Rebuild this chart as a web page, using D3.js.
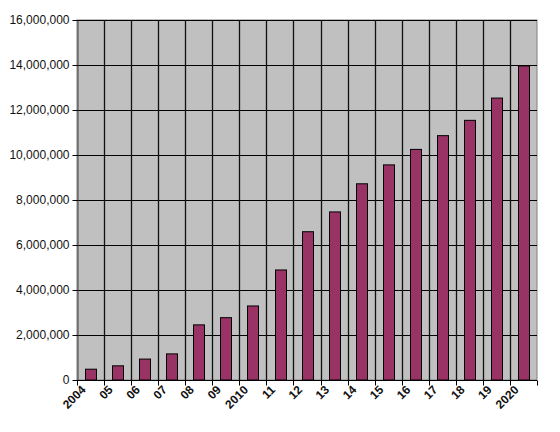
<!DOCTYPE html>
<html><head><meta charset="utf-8">
<script src="https://cdn.jsdelivr.net/npm/d3@7"></script>
<style>body{margin:0;background:#fff}</style>
</head><body>
<svg id="c" width="560" height="432"></svg>
<script>
const categories = ["2004","05","06","07","08","09","2010","11","12","13","14","15","16","17","18","19","2020"];
const values = [480000,630000,930000,1160000,2450000,2770000,3290000,4890000,6590000,7470000,8720000,9560000,10250000,10860000,11540000,12530000,13960000];
const yTicks = [0,2000000,4000000,6000000,8000000,10000000,12000000,14000000,16000000];

const m = {l:77, t:20, r:537, b:380};
const svg = d3.select("#c");
const x = d3.scaleBand().domain(categories).range([m.l, m.r]).paddingInner(0.6).paddingOuter(0.3);
const xb = d3.scaleBand().domain(categories).range([m.l, m.r]);
const y = d3.scaleLinear().domain([0,16000000]).range([m.b, m.t]);

svg.append("rect").attr("x",m.l).attr("y",m.t).attr("width",m.r-m.l).attr("height",m.b-m.t)
  .attr("fill","#c0c0c0").attr("stroke","#808080").attr("stroke-width",1);

// horizontal grid
svg.append("g").selectAll("line").data(yTicks.slice(1)).join("line")
  .attr("x1",m.l).attr("x2",m.r).attr("y1",d=>Math.round(y(d))+0.5).attr("y2",d=>Math.round(y(d))+0.5)
  .attr("stroke","#000").attr("stroke-width",1);
// vertical grid
svg.append("g").selectAll("line").data(categories.slice(1)).join("line")
  .attr("x1",d=>Math.round(xb(d))+0.5).attr("x2",d=>Math.round(xb(d))+0.5).attr("y1",m.t).attr("y2",m.b)
  .attr("stroke","#111").attr("stroke-width",1.3);

// bars
svg.append("g").selectAll("rect").data(categories).join("rect")
  .attr("x",(d)=>Math.round(x(d))+0.5).attr("width",Math.round(x.bandwidth()))
  .attr("y",(d,i)=>y(values[i])).attr("height",(d,i)=>m.b-y(values[i]))
  .attr("fill","#993366").attr("stroke","#000").attr("stroke-width",1);

// y axis
const ya = svg.append("g").attr("transform",`translate(${m.l+0.5},0)`)
  .call(d3.axisLeft(y).tickValues(yTicks).tickSize(5).tickSizeOuter(0).tickFormat(d3.format(",")));
ya.select(".domain").attr("stroke","#404040");
ya.selectAll("line").attr("stroke","#000");
ya.selectAll("text").attr("font-family","Liberation Sans, Arial, sans-serif").attr("font-size","12px").attr("fill","#111").attr("x",-8);

// x axis
const xa = svg.append("g").attr("transform",`translate(0,${m.b+0.5})`);
xa.append("line").attr("x1",m.l).attr("x2",m.r).attr("stroke","#000");
xa.selectAll("line.t").data(categories.concat(["end"])).join("line").attr("class","t")
  .attr("x1",(d,i)=>Math.round(m.l+i*xb.bandwidth())+0.5).attr("x2",(d,i)=>Math.round(m.l+i*xb.bandwidth())+0.5)
  .attr("y1",0).attr("y2",5).attr("stroke","#000");
xa.selectAll("text").data(categories).join("text")
  .attr("transform",d=>`translate(${xb(d)+xb.bandwidth()/2-4},${10}) rotate(-45)`)
  .attr("text-anchor","end").attr("font-family","Liberation Sans, Arial, sans-serif")
  .attr("font-size","12px").attr("font-weight","bold").attr("fill","#111").text(d=>d);
</script>
</body></html>
